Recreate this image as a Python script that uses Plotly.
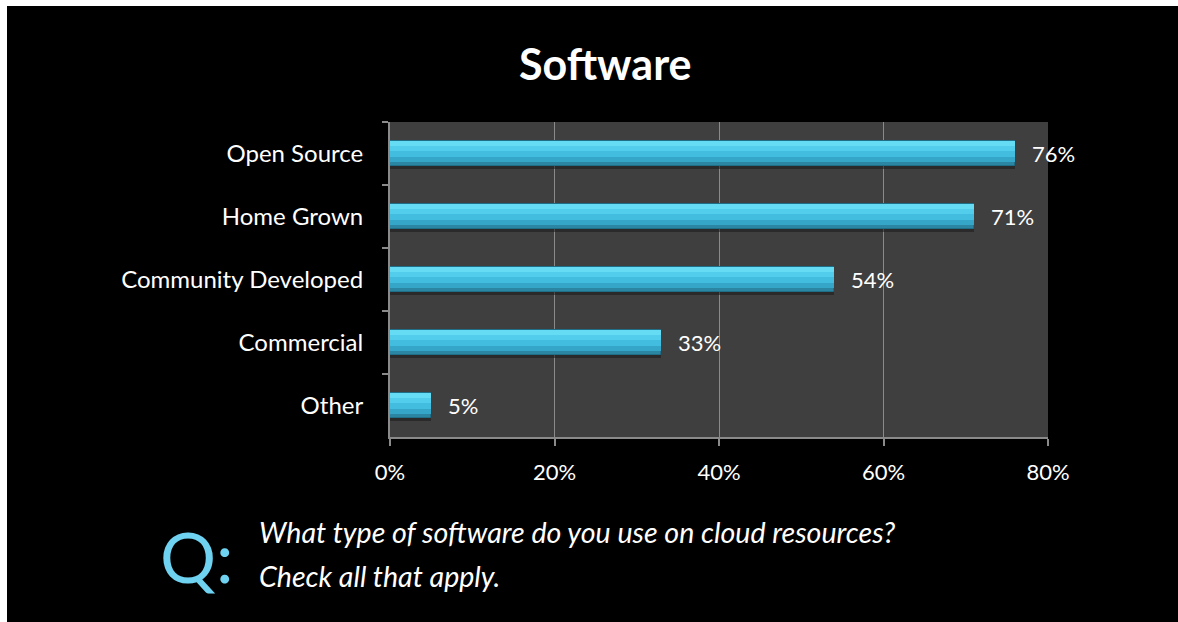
import plotly.graph_objects as go

# Survey results: share of respondents using each software type
categories = ["Open Source", "Home Grown", "Community Developed", "Commercial", "Other"]
shares = [0.76, 0.71, 0.54, 0.33, 0.05]
x_ticks = [0, 0.2, 0.4, 0.6, 0.8]
x_tick_labels = ["0%", "20%", "40%", "60%", "80%"]

W, H = 1178, 622
L, R, T, B = 390, 130, 122, 185
PW, PH = W - L - R, H - T - B


def px_x(p):
    return (p - L) / PW


def px_y(p):
    return (H - B - p) / PH


FONT = "Lato"
BAR_W = 0.41

fig = go.Figure()

# soft drop shadow under each bar
fig.add_trace(go.Bar(
    y=categories, x=shares, orientation="h",
    width=BAR_W, offset=-BAR_W / 2 + 0.045,
    marker=dict(color="rgba(25,25,25,0.55)", line=dict(width=0)),
    hoverinfo="skip", showlegend=False,
))

# stacked horizontal bands give the bar a rounded, bevelled look
bands = [
    (0.00, 1.00, "#2a86a3"),
    (0.03, 0.80, "#35a6c8"),
    (0.03, 0.62, "#42bddf"),
    (0.03, 0.38, "#52cdec"),
    (0.03, 0.18, "#66dbf4"),
]
for start, frac, color in bands:
    fig.add_trace(go.Bar(
        y=categories, x=shares, orientation="h",
        width=BAR_W * frac, offset=-BAR_W / 2 + BAR_W * start,
        marker=dict(color=color,
                    line=dict(color="#206f89", width=1) if start == 0 else dict(width=0)),
        hoverinfo="skip", showlegend=False,
    ))

# value labels to the right of each bar
annotations = []
for cat, v in zip(categories, shares):
    annotations.append(dict(
        x=v, y=cat, xref="x", yref="y", text=f"{round(v * 100)}%",
        showarrow=False, xanchor="left", yanchor="middle", xshift=15,
        font=dict(family=FONT, size=22, color="white"),
    ))

# chart title
annotations.append(dict(
    x=px_x(605), y=px_y(63), xref="paper", yref="paper", text="<b>Software</b>",
    showarrow=False, xanchor="center", yanchor="middle",
    font=dict(family=FONT, size=43, color="white"),
))
# question marker and question text
annotations.append(dict(
    x=px_x(158), y=px_y(556), xref="paper", yref="paper", text="Q:",
    showarrow=False, xanchor="left", yanchor="middle",
    font=dict(family=FONT, size=70, color="#6fd2f0"),
))
annotations.append(dict(
    x=px_x(257), y=px_y(532), xref="paper", yref="paper",
    text="<i>What type of software do you use on cloud resources?</i>",
    showarrow=False, xanchor="left", yanchor="middle",
    font=dict(family=FONT, size=28.6, color="white"),
))
annotations.append(dict(
    x=px_x(257), y=px_y(576), xref="paper", yref="paper",
    text="<i>Check all that apply.</i>",
    showarrow=False, xanchor="left", yanchor="middle",
    font=dict(family=FONT, size=28.6, color="white"),
))

# thin white frame along the top and left edges
shapes = [
    dict(type="rect", xref="paper", yref="paper", x0=px_x(0), x1=px_x(W), y0=px_y(0), y1=px_y(6),
         fillcolor="white", line=dict(width=0), layer="above"),
    dict(type="rect", xref="paper", yref="paper", x0=px_x(0), x1=px_x(7), y0=px_y(0), y1=px_y(H),
         fillcolor="white", line=dict(width=0), layer="above"),
]

fig.update_layout(
    width=W, height=H,
    margin=dict(l=L, r=R, t=T, b=B, pad=0),
    paper_bgcolor="black", plot_bgcolor="#3f3f3f",
    barmode="overlay", bargap=0,
    showlegend=False,
    annotations=annotations, shapes=shapes,
    font=dict(family=FONT, color="white"),
)
fig.update_xaxes(
    range=[0, 0.8], tickvals=x_ticks, ticktext=x_tick_labels,
    showgrid=True, gridcolor="#8a8a8a", gridwidth=1,
    showline=True, linecolor="#8a8a8a", linewidth=2,
    ticks="outside", ticklen=7, tickcolor="#8a8a8a", tickwidth=2,
    ticklabelstandoff=8,
    tickfont=dict(family=FONT, size=22, color="white"),
    zeroline=False, fixedrange=True,
)
fig.update_yaxes(
    categoryorder="array", categoryarray=categories, autorange="reversed",
    showline=True, linecolor="#8a8a8a", linewidth=2,
    ticks="outside", ticklen=6, tickcolor="#8a8a8a", tickwidth=2,
    tickson="boundaries", ticklabelstandoff=20,
    tickfont=dict(family=FONT, size=24, color="white"),
    showgrid=False, zeroline=False, fixedrange=True,
)

fig.write_html("out.html", config={"displayModeBar": False})
